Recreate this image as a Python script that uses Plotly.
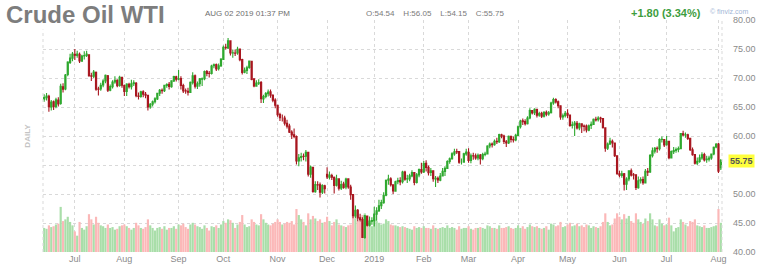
import pandas as pd
import plotly.graph_objects as go

# ---------------- data (daily, Jun 13 2018 - Aug 2 2019) ----------------
holidays = ['2018-07-04', '2018-09-03', '2018-11-22', '2018-12-25', '2019-01-01',
            '2019-01-21', '2019-02-18', '2019-04-19', '2019-05-27', '2019-07-04']

close_jun18 = [66.64, 66.89, 65.06, 65.85, 65.07, 66.22, 65.54, 68.58, 68.08, 70.53, 72.76, 73.45, 74.15]
close_jul18 = [73.94, 74.14, 72.94, 73.80, 73.85, 74.11, 70.38, 70.33, 71.01, 68.06, 68.08, 68.76, 69.46, 70.46, 67.89, 68.52, 69.30, 69.61, 68.69, 70.13, 68.76]
close_aug18 = [67.66, 68.96, 68.49, 69.01, 69.17, 66.94, 66.81, 67.63, 67.20, 67.04, 65.01, 65.46, 65.91, 66.43, 67.35, 67.86, 67.83, 68.72, 68.87, 68.53, 69.51, 70.25, 69.80]
close_sep18 = [69.87, 68.72, 67.77, 67.75, 67.54, 69.25, 70.37, 68.59, 68.99, 69.85, 69.85, 71.12, 70.80, 70.78, 72.08, 72.28, 71.57, 72.12, 73.25]
close_oct18 = [75.30, 75.23, 76.41, 74.33, 74.34, 74.29, 74.96, 73.17, 70.97, 71.34, 71.78, 72.92, 69.75, 68.65, 69.12, 69.17, 66.43, 66.82, 67.33, 67.59, 67.04, 66.18, 65.31]
close_nov18 = [63.69, 63.14, 63.10, 62.21, 61.67, 60.67, 60.19, 59.93, 55.69, 56.25, 56.46, 56.46, 57.20, 53.43, 54.63, 50.42, 51.63, 51.56, 50.29, 51.45, 50.93]
close_dec18 = [52.95, 53.25, 52.89, 51.49, 52.61, 51.00, 51.65, 51.15, 52.58, 51.20, 49.88, 46.24, 47.20, 45.88, 45.59, 42.53, 46.22, 44.61, 45.33, 45.41]
close_jan19 = [46.54, 47.09, 47.96, 48.52, 49.78, 52.36, 52.59, 51.59, 50.51, 52.11, 52.31, 52.07, 53.80, 52.57, 52.62, 53.13, 53.69, 51.99, 53.31, 54.23, 53.79]
close_feb19 = [55.26, 54.56, 53.66, 54.01, 52.64, 52.72, 52.41, 53.10, 53.90, 54.41, 55.59, 56.09, 56.92, 57.26, 57.26, 55.48, 55.50, 56.94, 57.22]
close_mar19 = [55.80, 56.59, 56.56, 56.22, 56.66, 56.07, 56.79, 56.87, 58.26, 58.61, 58.52, 59.09, 59.03, 60.23, 59.98, 59.04, 58.82, 59.94, 59.41, 59.30, 60.14]
close_apr19 = [61.59, 62.58, 62.46, 62.10, 63.08, 64.40, 63.98, 64.61, 63.58, 63.89, 63.40, 64.05, 63.76, 64.00, 65.70, 66.30, 65.89, 65.21, 63.30, 63.50, 63.91]
close_may19 = [63.60, 61.81, 61.94, 62.25, 61.40, 62.12, 61.70, 61.66, 61.04, 61.78, 62.02, 62.87, 62.76, 63.10, 62.99, 61.42, 57.91, 58.63, 59.14, 58.81, 56.59, 53.50]
close_jun19 = [53.25, 53.48, 51.68, 52.59, 53.99, 53.26, 53.27, 51.14, 52.28, 52.51, 51.93, 53.90, 53.76, 56.65, 57.43, 57.90, 57.83, 59.38, 59.43, 58.47]
close_jul19 = [59.09, 56.25, 57.34, 57.51, 57.66, 57.83, 60.43, 60.20, 60.21, 59.58, 57.62, 56.78, 55.30, 55.63, 56.22, 56.77, 55.88, 56.02, 56.20, 56.87, 58.05, 58.58]
close_aug19 = [53.95, 55.75]

open_jun18 = [66.36, 66.60, 66.85, 65.00, 65.90, 65.10, 66.20, 65.60, 68.50, 68.10, 70.60, 72.70, 73.40]
open_jul18 = [74.10, 73.90, 74.10, 72.90, 73.80, 73.90, 74.00, 70.40, 70.30, 71.00, 68.10, 68.10, 68.80, 69.50, 70.40, 67.90, 68.50, 69.30, 69.60, 68.70, 70.10]
open_aug18 = [68.70, 67.70, 68.90, 68.50, 69.00, 69.10, 66.90, 66.80, 67.60, 67.20, 67.00, 65.00, 65.50, 65.90, 66.40, 67.40, 67.90, 67.80, 68.70, 68.90, 68.50, 69.50, 70.20]
open_sep18 = [69.80, 69.90, 68.70, 67.80, 67.70, 67.50, 69.20, 70.40, 68.60, 69.00, 69.80, 69.90, 71.10, 70.80, 70.80, 72.10, 72.30, 71.60, 72.10]
open_oct18 = [73.20, 75.30, 75.20, 76.40, 74.30, 74.30, 74.30, 75.00, 73.20, 71.00, 71.30, 71.80, 72.90, 69.80, 68.60, 69.10, 69.20, 66.40, 66.80, 67.30, 67.60, 67.00, 66.20]
open_nov18 = [65.30, 63.70, 63.10, 63.10, 62.20, 61.70, 60.70, 60.20, 59.90, 55.70, 56.30, 56.50, 56.50, 57.20, 53.40, 54.60, 50.40, 51.60, 51.60, 50.30, 51.40]
open_dec18 = [53.40, 52.90, 53.20, 52.90, 51.50, 52.60, 51.00, 51.70, 51.20, 52.60, 51.20, 49.90, 46.20, 47.20, 45.90, 45.60, 42.50, 46.20, 44.60, 45.30]
open_jan19 = [45.40, 46.50, 47.10, 48.00, 48.50, 49.80, 52.40, 52.60, 51.60, 50.50, 52.10, 52.30, 52.10, 53.80, 52.60, 52.60, 53.10, 53.70, 52.00, 53.30, 54.20]
open_feb19 = [53.80, 55.30, 54.60, 53.70, 54.00, 52.60, 52.70, 52.40, 53.10, 53.90, 54.40, 55.60, 56.10, 56.90, 57.30, 57.30, 55.50, 55.50, 56.90]
open_mar19 = [57.20, 55.80, 56.60, 56.60, 56.20, 56.70, 56.10, 56.80, 56.90, 58.30, 58.60, 58.50, 59.10, 59.00, 60.20, 60.00, 59.00, 58.80, 59.90, 59.40, 59.30]
open_apr19 = [60.10, 61.60, 62.60, 62.50, 62.10, 63.10, 64.40, 64.00, 64.60, 63.60, 63.90, 63.40, 64.10, 63.80, 64.00, 65.70, 66.30, 65.90, 65.20, 63.30, 63.50]
open_may19 = [63.90, 63.60, 61.80, 61.90, 62.20, 61.40, 62.10, 61.70, 61.70, 61.00, 61.80, 62.00, 62.90, 62.80, 63.10, 63.00, 61.40, 57.90, 58.60, 59.10, 58.80, 56.60]
open_jun19 = [53.50, 53.20, 53.50, 51.70, 52.60, 54.00, 53.30, 53.30, 51.10, 52.30, 52.50, 51.90, 53.90, 53.80, 56.60, 57.40, 57.90, 57.80, 59.40, 59.40]
open_jul19 = [58.50, 59.10, 56.20, 57.30, 57.50, 57.70, 57.80, 60.40, 60.20, 60.20, 59.60, 57.60, 56.80, 55.30, 55.60, 56.20, 56.80, 55.90, 56.00, 56.20, 56.90, 58.10]
open_aug19 = [58.60, 54.54]

high_jun18 = [67.2, 67.4, 67.1, 66.2, 66.1, 66.6, 66.7, 69.0, 69.1, 70.7, 72.9, 74.2, 74.5]
high_jul18 = [75.0, 74.7, 74.4, 74.0, 74.6, 74.7, 74.1, 70.9, 71.4, 71.1, 68.5, 69.2, 69.8, 70.6, 70.5, 68.9, 69.6, 70.3, 69.8, 70.4, 70.2]
high_aug18 = [68.9, 69.1, 69.2, 69.7, 69.6, 69.3, 67.5, 67.8, 67.9, 67.6, 67.1, 65.7, 66.1, 66.7, 67.4, 68.1, 68.2, 68.8, 69.1, 69.3, 69.6, 70.4, 70.4]
high_sep18 = [71.4, 70.3, 69.0, 68.2, 68.3, 69.4, 71.0, 70.6, 69.4, 70.0, 70.1, 71.3, 71.4, 71.2, 72.3, 72.5, 72.5, 72.5, 73.4]
high_oct18 = [75.6, 75.9, 76.9, 76.5, 74.9, 74.9, 75.4, 75.1, 73.3, 71.8, 72.1, 73.0, 72.9, 70.0, 69.6, 69.8, 69.5, 67.1, 67.6, 68.0, 68.0, 67.2, 66.5]
high_nov18 = [65.4, 64.0, 63.7, 63.5, 62.8, 62.1, 61.0, 61.3, 60.1, 56.9, 57.1, 57.0, 57.6, 57.3, 54.9, 54.6, 52.2, 52.2, 52.0, 51.7, 51.6]
high_dec18 = [54.6, 53.9, 53.5, 53.0, 53.3, 52.7, 52.3, 52.1, 52.8, 52.7, 51.6, 50.0, 48.0, 47.4, 46.6, 46.0, 46.4, 46.3, 46.1, 46.0]
high_jan19 = [47.8, 47.7, 49.0, 49.0, 50.3, 52.5, 53.3, 52.9, 51.7, 52.3, 52.8, 52.9, 54.0, 54.0, 53.3, 53.5, 54.1, 53.8, 53.6, 54.4, 55.4]
high_feb19 = [55.7, 55.8, 54.9, 54.5, 54.1, 53.1, 53.0, 53.6, 54.5, 54.8, 55.8, 56.3, 57.2, 57.8, 57.8, 57.4, 56.1, 57.1, 57.8]
high_mar19 = [57.9, 57.0, 57.1, 57.0, 57.0, 56.9, 57.1, 57.3, 58.4, 58.9, 58.9, 59.4, 59.7, 60.4, 60.4, 60.2, 59.3, 60.1, 60.1, 59.9, 60.4]
high_apr19 = [61.8, 62.8, 63.0, 62.9, 63.4, 64.8, 64.5, 64.8, 64.7, 64.2, 64.2, 64.3, 64.4, 64.3, 65.9, 66.6, 66.5, 66.1, 65.3, 63.9, 64.3]
high_may19 = [64.6, 63.7, 62.5, 62.6, 62.6, 62.3, 62.2, 62.0, 62.0, 62.0, 62.5, 63.0, 63.3, 63.4, 63.3, 63.1, 61.5, 58.9, 59.7, 59.4, 58.9, 56.7]
high_jun19 = [54.0, 54.0, 53.6, 52.9, 54.1, 54.4, 53.6, 53.4, 53.0, 52.9, 53.0, 54.3, 54.5, 56.9, 58.0, 58.1, 58.2, 59.6, 59.9, 59.5]
high_jul19 = [60.0, 59.2, 57.5, 58.1, 58.0, 58.2, 60.5, 60.9, 60.6, 60.4, 59.7, 58.0, 56.9, 56.3, 56.8, 57.2, 57.1, 56.6, 56.6, 57.0, 58.2, 58.8]
high_aug19 = [58.8, 56.05]

low_jun18 = [65.9, 66.1, 64.2, 64.4, 64.5, 64.8, 65.1, 65.4, 67.5, 67.9, 70.3, 72.4, 72.9]
low_jul18 = [73.1, 73.5, 72.6, 72.8, 73.2, 73.6, 70.2, 69.5, 70.0, 67.8, 67.0, 67.8, 68.4, 69.1, 67.6, 67.7, 68.2, 69.0, 68.4, 68.5, 68.3]
low_aug18 = [66.9, 66.9, 68.2, 68.0, 68.6, 66.7, 66.3, 66.6, 66.7, 66.5, 64.4, 64.7, 65.1, 65.6, 66.2, 66.9, 67.3, 67.6, 68.3, 68.0, 68.3, 69.3, 69.4]
low_sep18 = [69.6, 68.0, 67.4, 67.3, 67.0, 67.4, 68.9, 68.2, 68.1, 68.5, 68.6, 69.6, 70.3, 70.1, 70.6, 71.7, 71.2, 71.3, 71.9]
low_oct18 = [73.1, 74.9, 75.0, 73.9, 73.5, 73.8, 74.0, 72.9, 70.6, 70.8, 70.7, 71.6, 69.6, 68.4, 68.5, 68.8, 65.7, 65.7, 66.5, 66.8, 66.6, 65.8, 64.8]
low_nov18 = [63.3, 62.6, 62.5, 61.8, 61.3, 60.5, 59.5, 59.6, 55.1, 54.8, 55.6, 55.8, 55.6, 53.0, 52.8, 50.2, 50.2, 50.7, 49.4, 50.0, 50.1]
low_dec18 = [52.6, 52.5, 52.4, 50.1, 51.3, 50.6, 50.7, 50.9, 50.8, 50.9, 49.0, 45.8, 45.8, 45.3, 45.2, 42.4, 42.3, 44.4, 44.4, 44.7]
low_jan19 = [44.4, 45.4, 46.9, 47.4, 48.3, 49.6, 51.6, 51.3, 50.0, 50.4, 51.7, 51.5, 51.8, 52.3, 51.9, 52.2, 52.9, 51.5, 51.8, 52.9, 53.5]
low_feb19 = [53.6, 53.9, 53.2, 53.1, 52.1, 51.2, 51.9, 52.2, 53.0, 53.1, 54.3, 55.2, 55.9, 56.6, 56.9, 55.2, 55.1, 55.4, 56.6]
low_mar19 = [55.4, 55.3, 55.9, 55.9, 55.8, 55.1, 55.8, 56.5, 56.8, 57.9, 58.0, 58.3, 58.6, 58.8, 59.6, 58.6, 58.1, 58.6, 58.9, 58.9, 59.1]
low_apr19 = [60.0, 61.3, 61.9, 61.8, 62.0, 62.9, 63.7, 63.6, 63.2, 63.3, 63.1, 63.2, 63.4, 63.5, 63.9, 65.4, 65.6, 64.8, 62.8, 62.8, 63.2]
low_may19 = [63.1, 61.6, 61.3, 60.0, 61.1, 61.0, 60.5, 60.8, 60.6, 60.8, 61.2, 61.9, 62.5, 62.5, 62.3, 61.3, 57.3, 57.6, 58.5, 58.0, 56.4, 53.3]
low_jun19 = [52.9, 52.8, 50.6, 50.7, 52.2, 53.0, 52.5, 50.7, 50.9, 51.8, 51.6, 51.8, 53.1, 53.6, 56.3, 57.0, 57.1, 57.5, 58.9, 58.1]
low_jul19 = [58.3, 56.0, 56.1, 56.9, 57.1, 57.2, 57.7, 59.9, 59.7, 59.3, 57.4, 56.6, 55.1, 55.0, 55.4, 55.9, 55.6, 55.4, 55.6, 55.9, 56.7, 57.9]
low_aug19 = [53.6, 54.15]

vol_jun18 = [560, 540, 620, 580, 600, 640, 660, 1050, 720, 760, 820, 700, 620]
vol_jul18 = [480, 380, 700, 560, 520, 600, 880, 760, 640, 820, 680, 620, 600, 560, 640, 560, 580, 520, 540, 600, 620]
vol_aug18 = [640, 600, 560, 520, 560, 680, 620, 560, 540, 580, 760, 620, 560, 500, 560, 580, 540, 600, 520, 560, 560, 600, 540]
vol_sep18 = [640, 620, 660, 580, 540, 640, 680, 640, 600, 580, 540, 620, 560, 500, 600, 580, 620, 560, 640]
vol_oct18 = [720, 680, 760, 740, 680, 560, 640, 700, 860, 640, 580, 600, 760, 700, 640, 620, 880, 760, 680, 640, 620, 660, 700]
vol_nov18 = [760, 700, 640, 660, 700, 680, 720, 640, 1000, 860, 760, 700, 620, 900, 760, 840, 780, 720, 760, 680, 700]
vol_dec18 = [820, 720, 620, 700, 760, 640, 620, 600, 580, 620, 640, 900, 780, 720, 700, 860, 900, 760, 680, 600]
vol_jan19 = [760, 720, 680, 640, 660, 760, 720, 640, 620, 620, 600, 580, 600, 580, 560, 540, 520, 600, 560, 580, 560]
vol_feb19 = [600, 560, 560, 540, 620, 560, 540, 560, 580, 560, 620, 560, 580, 560, 520, 600, 540, 560, 560]
vol_mar19 = [600, 540, 520, 560, 560, 580, 560, 540, 620, 600, 560, 560, 540, 620, 560, 560, 580, 600, 560, 540, 560]
vol_apr19 = [620, 560, 600, 540, 580, 640, 600, 580, 600, 560, 540, 560, 600, 520, 660, 640, 600, 620, 700, 580, 600]
vol_may19 = [640, 680, 600, 620, 660, 600, 620, 580, 640, 620, 560, 600, 580, 560, 600, 700, 900, 700, 620, 640, 780, 900]
vol_jun19 = [820, 760, 880, 780, 840, 720, 680, 900, 760, 700, 660, 780, 720, 900, 760, 620, 600, 760, 660, 620]
vol_jul19 = [640, 800, 620, 480, 560, 580, 760, 700, 640, 600, 720, 700, 760, 620, 600, 580, 620, 560, 560, 580, 600, 620]
vol_aug19 = [1000, 680]

month_labels = ['Jul', 'Aug', 'Sep', 'Oct', 'Nov', 'Dec', '2019', 'Feb', 'Mar', 'Apr', 'May', 'Jun', 'Jul', 'Aug']
price_ticks = [40, 45, 50, 55, 60, 65, 70, 75, 80]
last_price = 55.75

# ---------------- assemble ----------------
months = ['jun18', 'jul18', 'aug18', 'sep18', 'oct18', 'nov18', 'dec18', 'jan19', 'feb19',
          'mar19', 'apr19', 'may19', 'jun19', 'jul19', 'aug19']
g = globals()
closes = sum((g['close_' + m] for m in months), [])
opens = sum((g['open_' + m] for m in months), [])
highs = sum((g['high_' + m] for m in months), [])
lows = sum((g['low_' + m] for m in months), [])
vols = sum((g['vol_' + m] for m in months), [])

dates = [d.strftime('%Y-%m-%d') for d in pd.bdate_range('2018-06-13', '2019-08-02')
         if d.strftime('%Y-%m-%d') not in holidays]
n = len(dates)
assert len(closes) == n and len(opens) == n and len(highs) == n and len(lows) == n and len(vols) == n, \
    (n, len(closes), len(opens), len(highs), len(lows), len(vols))

month_first = []
seen = set()
for d in dates:
    if d[:7] not in seen:
        seen.add(d[:7])
        month_first.append(d)
month_first = month_first[1:]  # skip partial June 2018

UP = '#2ea82e'
DOWN = '#a8161f'
vol_colors = ['#a9dea9' if c >= o else '#fbb8b8' for o, c in zip(opens, closes)]

fig = go.Figure()
fig.add_trace(go.Bar(x=dates, y=vols, marker=dict(color=vol_colors, line=dict(width=0)),
                     yaxis='y', hoverinfo='skip', showlegend=False))
fig.add_trace(go.Candlestick(
    x=dates, open=opens, high=highs, low=lows, close=closes, yaxis='y2',
    increasing=dict(line=dict(color=UP, width=1.1), fillcolor=UP),
    decreasing=dict(line=dict(color=DOWN, width=1.1), fillcolor=DOWN),
    whiskerwidth=0, showlegend=False, hoverinfo='skip'))

GRID = '#d9d9d9'
TXT = '#8a8a8a'
W, H = 768, 276
L, R, T, B = 43, 41, 20, 19
pw, ph = W - L - R, H - T - B


def px(x):
    return (x - L) / pw


def py(y):
    return (H - B - y) / ph


# 55.00 label is hidden under the last-price marker in the reference
tick_text = ['' if v == 55 else '%.2f' % v for v in price_ticks]

fig.update_layout(
    width=W, height=H,
    margin=dict(l=L, r=R, t=T, b=B, pad=0),
    paper_bgcolor='white', plot_bgcolor='white',
    bargap=0.08,
    font=dict(family='Arial, Liberation Sans, sans-serif', size=9, color=TXT),
    xaxis=dict(type='category', rangeslider=dict(visible=False),
               tickvals=month_first, ticktext=month_labels,
               showgrid=True, gridcolor=GRID, griddash='dot', gridwidth=1,
               showline=False, zeroline=False, ticks='', tickfont=dict(size=9, color=TXT),
               range=[-0.5, n - 0.5]),
    yaxis=dict(range=[0, 5400], visible=False, showgrid=False, fixedrange=True),
    yaxis2=dict(overlaying='y', side='right', range=[40, 80], tickvals=price_ticks,
                ticktext=tick_text,
                showgrid=True, gridcolor=GRID, griddash='dot', gridwidth=1,
                zeroline=False, showline=False, ticks='', ticklabelstandoff=10,
                tickfont=dict(size=9, color=TXT)),
    shapes=[
        dict(type='line', xref='paper', yref='paper', x0=0, x1=0, y0=0, y1=1,
             line=dict(color=GRID, width=1, dash='dot')),
        dict(type='line', xref='paper', yref='paper', x0=1, x1=1, y0=0, y1=1,
             line=dict(color=GRID, width=1, dash='dot')),
    ],
    annotations=[
        dict(text='<b>Crude Oil WTI</b>', xref='paper', yref='paper', x=px(4), y=py(14),
             xanchor='left', yanchor='middle', showarrow=False, bgcolor='white',
             font=dict(size=24, color='#7d7d7d', family='Arial, Liberation Sans, sans-serif')),
        dict(text='AUG 02 2019 01:37 PM', xref='paper', yref='paper', x=px(204), y=py(13),
             xanchor='left', yanchor='middle', showarrow=False,
             font=dict(size=8, color='#6e6e6e')),
        dict(text='O:54.54&nbsp;&nbsp;&nbsp;&nbsp;H:56.05&nbsp;&nbsp;&nbsp;&nbsp;L:54.15&nbsp;&nbsp;&nbsp;&nbsp;C:55.75',
             xref='paper', yref='paper', x=px(366), y=py(13),
             xanchor='left', yanchor='middle', showarrow=False,
             font=dict(size=8, color='#7a7a7a')),
        dict(text='<b>+1.80 (3.34%)</b>', xref='paper', yref='paper', x=px(633), y=py(13),
             xanchor='left', yanchor='middle', showarrow=False,
             font=dict(size=11, color='#3d9d3d')),
        dict(text='© finviz.com', xref='paper', yref='paper', x=px(713), y=py(11),
             xanchor='left', yanchor='middle', showarrow=False,
             font=dict(size=7, color='#9fb6d6')),
        dict(text='<b>DAILY</b>', xref='paper', yref='paper', x=px(27), y=py(138),
             xanchor='center', yanchor='middle', showarrow=False, textangle=-90,
             font=dict(size=8, color='#c4c4c4')),
        dict(text='<b>%.2f</b>' % last_price, xref='paper', yref='y2', x=1, y=last_price,
             xanchor='left', yanchor='middle', xshift=6, showarrow=False,
             bgcolor='#ffff3c', borderpad=1,
             font=dict(size=9, color='#555555')),
    ],
)

fig.write_html('out.html')
